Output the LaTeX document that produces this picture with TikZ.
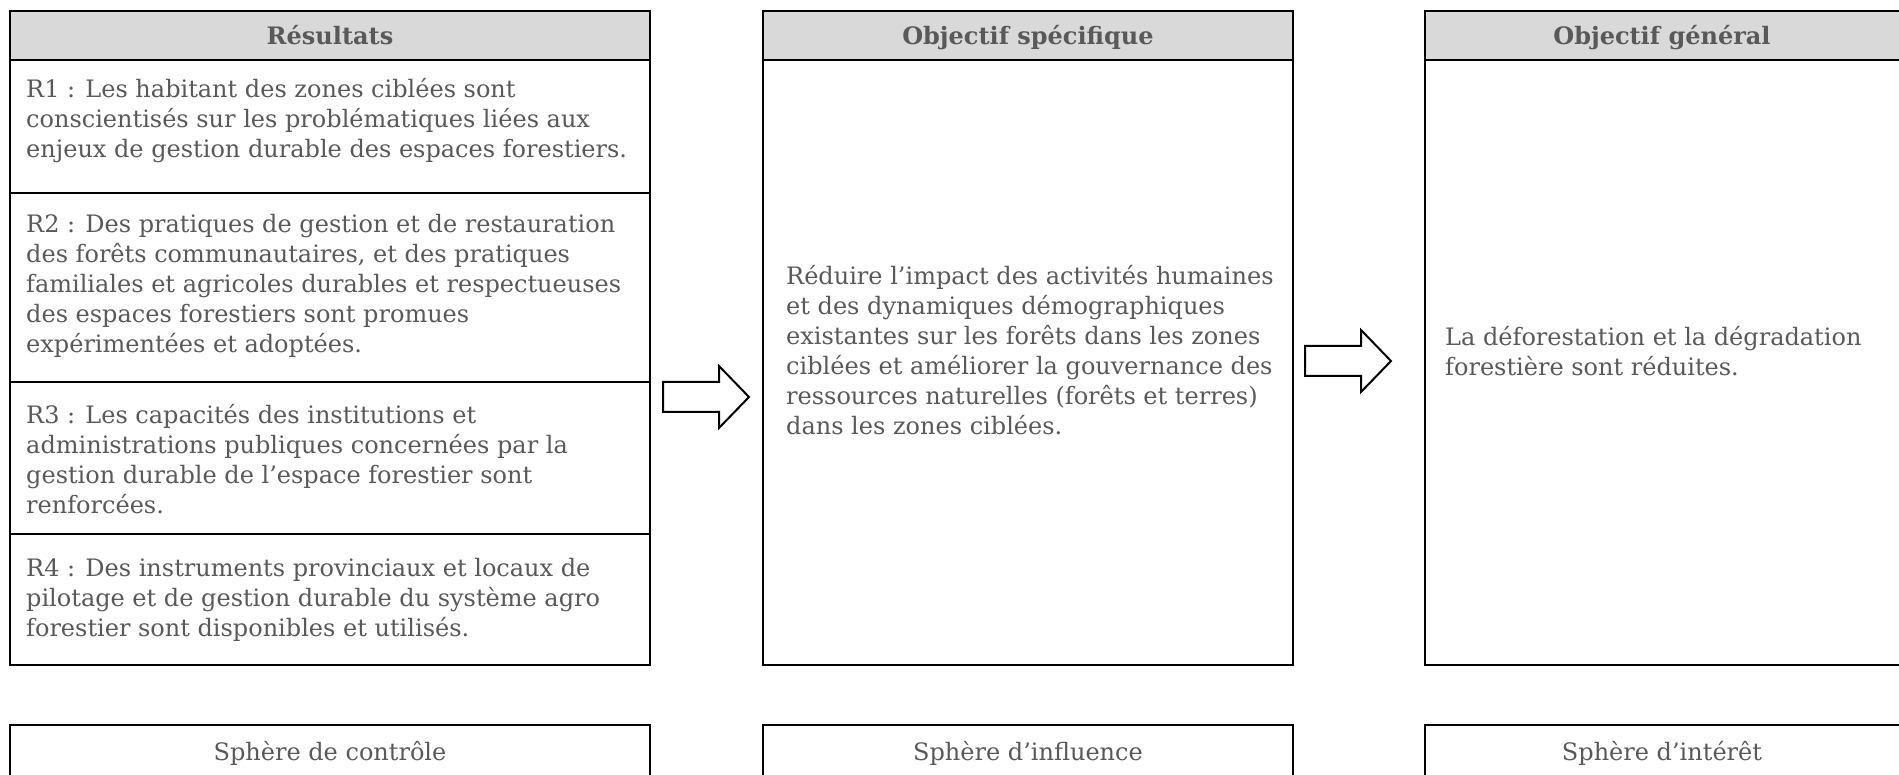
\documentclass[tikz,border=0pt]{standalone}
\usepackage{fontspec}
\setmainfont{DejaVu Serif}
\definecolor{txtgray}{HTML}{595959}
\definecolor{headgray}{HTML}{D9D9D9}
\tikzset{
  cell/.style={draw=black, line width=2pt, anchor=north west, inner sep=0pt, outer sep=0pt},
  headcell/.style={cell, fill=headgray, minimum height=49pt},
  txt/.style={anchor=base west, inner sep=0pt, text=txtgray, align=left,
    font=\fontsize{24}{30}\selectfont},
  headtxt/.style={anchor=base, inner sep=0pt, text=txtgray, font=\fontsize{24}{30}\selectfont\bfseries},
  sphtxt/.style={anchor=base, inner sep=0pt, text=txtgray, font=\fontsize{24}{30}\selectfont},
  blockarrow/.style={draw=black, line width=2pt, fill=white, line join=miter}
}
\begin{document}
\begin{tikzpicture}[x=1pt, y=-1pt]
    \clip (0,0) rectangle (1899,775);
    \fill[white] (0,0) rectangle (1899,775);
    % left column
    \node [headcell, minimum width=640pt] (res) at (10,11) {};
    \node [cell, minimum width=640pt, minimum height=133pt] (r1) at (10,60) {};
    \node [cell, minimum width=640pt, minimum height=189pt] (r2) at (10,193) {};
    \node [cell, minimum width=640pt, minimum height=152pt] (r3) at (10,382) {};
    \node [cell, minimum width=640pt, minimum height=131pt] (r4) at (10,534) {};
    % middle column
    \node [headcell, minimum width=530pt] (osp) at (763,11) {};
    \node [cell, minimum width=530pt, minimum height=605pt] (ospbody) at (763,60) {};
    % right column
    \node [headcell, minimum width=540pt] (og) at (1425,11) {};
    \node [cell, minimum width=540pt, minimum height=605pt] (ogbody) at (1425,60) {};
    % spheres
    \node [cell, minimum width=640pt, minimum height=80pt] (sc) at (10,725) {};
    \node [cell, minimum width=530pt, minimum height=80pt] (sinf) at (763,725) {};
    \node [cell, minimum width=540pt, minimum height=80pt] (sint) at (1425,725) {};

    % headers
    \node [headtxt] (tres) at (330,45) {Résultats};
    \node [headtxt] (tosp) at (1028,45) {Objectif spécifique};
    \node [headtxt] (tog) at (1662,45) {Objectif général};

    % results (base = last line)
    \node [txt] (t1) at (26,158) {R1 : Les habitant des zones ciblées sont\\conscientisés sur les problématiques liées aux\\enjeux de gestion durable des espaces forestiers.};
    \node [txt] (t2) at (26,353) {R2 : Des pratiques de gestion et de restauration\\des forêts communautaires, et des pratiques\\familiales et agricoles durables et respectueuses\\des espaces forestiers sont promues\\expérimentées et adoptées.};
    \node [txt] (t3) at (26,513) {R3 : Les capacités des institutions et\\administrations publiques concernées par la\\gestion durable de l’espace forestier sont\\renforcées.};
    \node [txt] (t4) at (26,636) {R4 : Des instruments provinciaux et locaux de\\pilotage et de gestion durable du système agro\\forestier sont disponibles et utilisés.};

    \node [txt] (tosb) at (786,435) {Réduire l’impact des activités humaines\\et des dynamiques démographiques\\existantes sur les forêts dans les zones\\ciblées et améliorer la gouvernance des\\ressources naturelles (forêts et terres)\\dans les zones ciblées.};
    \node [txt] (togb) at (1445,376) {La déforestation et la dégradation\\forestière sont réduites.};

    % spheres text
    \node [sphtxt] (tsc) at (330,760) {Sphère de contrôle};
    \node [sphtxt] (tsinf) at (1028,760) {Sphère d’influence};
    \node [sphtxt] (tsint) at (1662,760) {Sphère d’intérêt};

    % block arrows
    \coordinate (a1) at (663,397);
    \coordinate (a2) at (1305,361);
    \foreach \a in {a1,a2}
      \draw [blockarrow] (\a) ++(0,-15) -- ++(56,0) -- ++(0,-16) -- ++(30,31)
        -- ++(-30,31) -- ++(0,-16) -- ++(-56,0) -- cycle;
\end{tikzpicture}
\end{document}
